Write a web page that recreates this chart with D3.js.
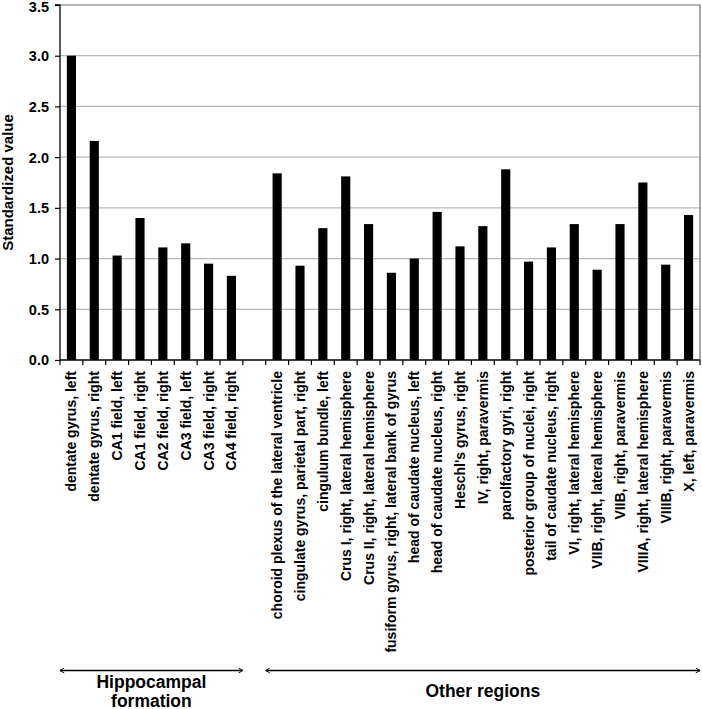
<!DOCTYPE html>
<html>
<head>
<meta charset="utf-8">
<script src="https://cdn.jsdelivr.net/npm/d3@7"></script>
<style>
  html, body { margin: 0; padding: 0; background: #fff; }
  svg { display: block; }
  text { font-family: Arial, "Liberation Sans", sans-serif; font-weight: bold; fill: #000; }
</style>
</head>
<body>
<svg id="chart" width="702" height="709"></svg>
<script>
// ---- data ----
const hippoLabels = ["dentate gyrus, left", "dentate gyrus, right", "CA1 field, left", "CA1 field, right",
  "CA2 field, right", "CA3 field, left", "CA3 field, right", "CA4 field, right"];
const hippoValues = [3.00, 2.16, 1.03, 1.40, 1.11, 1.15, 0.95, 0.83];
const otherLabels = ["choroid plexus of the lateral ventricle", "cingulate gyrus, parietal part, right",
  "cingulum bundle, left", "Crus I, right, lateral hemisphere", "Crus II, right, lateral hemisphere",
  "fusiform gyrus, right, lateral bank of gyrus", "head of caudate nucleus, left", "head of caudate nucleus, right",
  "Heschl's gyrus, right", "IV, right, paravermis", "parolfactory gyri, right", "posterior group of nuclei, right",
  "tail of caudate nucleus, right", "VI, right, lateral hemisphere", "VIIB, right, lateral hemisphere",
  "VIIB, right, paravermis", "VIIIA, right, lateral hemisphere", "VIIIB, right, paravermis", "X, left, paravermis"];
const otherValues = [1.84, 0.93, 1.30, 1.81, 1.34, 0.86, 1.00, 1.46, 1.12, 1.32, 1.88, 0.97, 1.11, 1.34, 0.89, 1.34, 1.75, 0.94, 1.43];
const groupNames = [["Hippocampal", "formation"], ["Other regions"]];
const yTicks = [0, 0.5, 1.0, 1.5, 2.0, 2.5, 3.0, 3.5];
const yTitle = "Standardized value";

// combined slots (one empty slot between the two groups)
const rows = [];
hippoLabels.forEach((l, i) => rows.push({ label: l, value: hippoValues[i] }));
rows.push({ label: "", value: null });
otherLabels.forEach((l, i) => rows.push({ label: l, value: otherValues[i] }));
rows.forEach((r, i) => r.idx = i);

const FONT = "Arial, 'Liberation Sans', sans-serif";
const svg = d3.select("#chart");
const mLeft = 60, mRight = 700, mTop = 5, mBottom = 360;

const x = d3.scaleBand().domain(rows.map(r => r.idx)).range([mLeft, mRight])
  .paddingInner(0.6).paddingOuter(0.3);
const y = d3.scaleLinear().domain([0, 3.5]).range([mBottom, mTop]);
const step = x.step();
const slotStart = i => x(i) + x.bandwidth() / 2 - step / 2;

// gridlines
svg.append("g").selectAll("line").data(yTicks.filter(t => t > 0 && t < 3.5)).join("line")
  .attr("x1", mLeft).attr("x2", mRight)
  .attr("y1", d => y(d)).attr("y2", d => y(d))
  .attr("stroke", "#b8b8b8").attr("stroke-width", 1.2);

// plot border top/right
svg.append("path")
  .attr("d", `M${mLeft},${y(3.5)}H${mRight}V${y(0)}`)
  .attr("fill", "none").attr("stroke", "#707070").attr("stroke-width", 1.2);

// bars
svg.append("g").selectAll("rect").data(rows.filter(r => r.value != null)).join("rect")
  .attr("x", d => x(d.idx)).attr("width", x.bandwidth())
  .attr("y", d => y(d.value)).attr("height", d => y(0) - y(d.value))
  .attr("fill", "#000");

// y axis
const yAxis = d3.axisLeft(y).tickValues(yTicks).tickFormat(d3.format(".1f")).tickSize(5).tickPadding(6);
const ya = svg.append("g").attr("transform", `translate(${mLeft},0)`).call(yAxis);
ya.attr("font-family", null).attr("font-size", null);
ya.select(".domain").attr("stroke", "#000").attr("stroke-width", 1.3).attr("d", `M-5,${y(3.5)}H0V${y(0)}`);
ya.selectAll(".tick line").attr("stroke", "#000").attr("stroke-width", 1.2);
ya.selectAll(".tick text").attr("dy", d => d === 3.5 ? "0.48em" : "0.34em")
  .style("font-size", "14.5px").style("font-family", FONT).style("font-weight", "bold");

// x axis baseline and ticks at slot boundaries
svg.append("line").attr("x1", mLeft).attr("x2", mRight).attr("y1", y(0)).attr("y2", y(0))
  .attr("stroke", "#000").attr("stroke-width", 1.3);
const bounds = d3.range(rows.length + 1).map(i => i < rows.length ? slotStart(i) : slotStart(rows.length - 1) + step);
svg.append("g").selectAll("line").data(bounds).join("line")
  .attr("x1", d => d).attr("x2", d => d).attr("y1", y(0)).attr("y2", y(0) + 5)
  .attr("stroke", "#000").attr("stroke-width", 1.2);

// x labels (rotated)
svg.append("g").selectAll("text").data(rows.filter(r => r.label)).join("text")
  .attr("transform", d => `translate(${x(d.idx) + x.bandwidth() / 2},${y(0) + 11}) rotate(-90)`)
  .attr("text-anchor", "end").attr("dy", "0.36em")
  .style("font-size", "14px").style("font-family", FONT)
  .text(d => d.label);

// y title
svg.append("text")
  .attr("transform", `translate(13,${(mTop + mBottom) / 2}) rotate(-90)`)
  .attr("text-anchor", "middle").style("font-size", "15px").style("font-family", FONT)
  .text(yTitle);

// group brackets
const defs = svg.append("defs");
["start", "end"].forEach(k => {
  defs.append("marker").attr("id", "arr-" + k)
    .attr("viewBox", "0 0 10 10").attr("refX", k === "end" ? 9 : 1).attr("refY", 5)
    .attr("markerWidth", 6).attr("markerHeight", 6).attr("markerUnits", "userSpaceOnUse")
    .attr("orient", "auto")
    .append("path")
    .attr("d", k === "end" ? "M2,1L9,5L2,9" : "M8,1L1,5L8,9")
    .attr("fill", "none").attr("stroke", "#000").attr("stroke-width", 1.6);
});
const groups = [
  { x0: slotStart(0), x1: slotStart(8), lines: groupNames[0] },
  { x0: slotStart(9), x1: slotStart(rows.length - 1) + step, lines: groupNames[1] }
];
const arrowY = 670.5;
groups.forEach(g => {
  svg.append("line").attr("x1", g.x0).attr("x2", g.x1).attr("y1", arrowY).attr("y2", arrowY)
    .attr("stroke", "#000").attr("stroke-width", 1.3)
    .attr("marker-start", "url(#arr-start)").attr("marker-end", "url(#arr-end)");
  const cx = (g.x0 + g.x1) / 2;
  const t = svg.append("text").attr("text-anchor", "middle").style("font-size", "17.5px").style("font-family", FONT);
  if (g.lines.length === 2) {
    t.append("tspan").attr("x", cx).attr("y", 688).text(g.lines[0]);
    t.append("tspan").attr("x", cx).attr("y", 706.5).text(g.lines[1]);
  } else {
    t.append("tspan").attr("x", cx).attr("y", 697).text(g.lines[0]);
  }
});
</script>
</body>
</html>
